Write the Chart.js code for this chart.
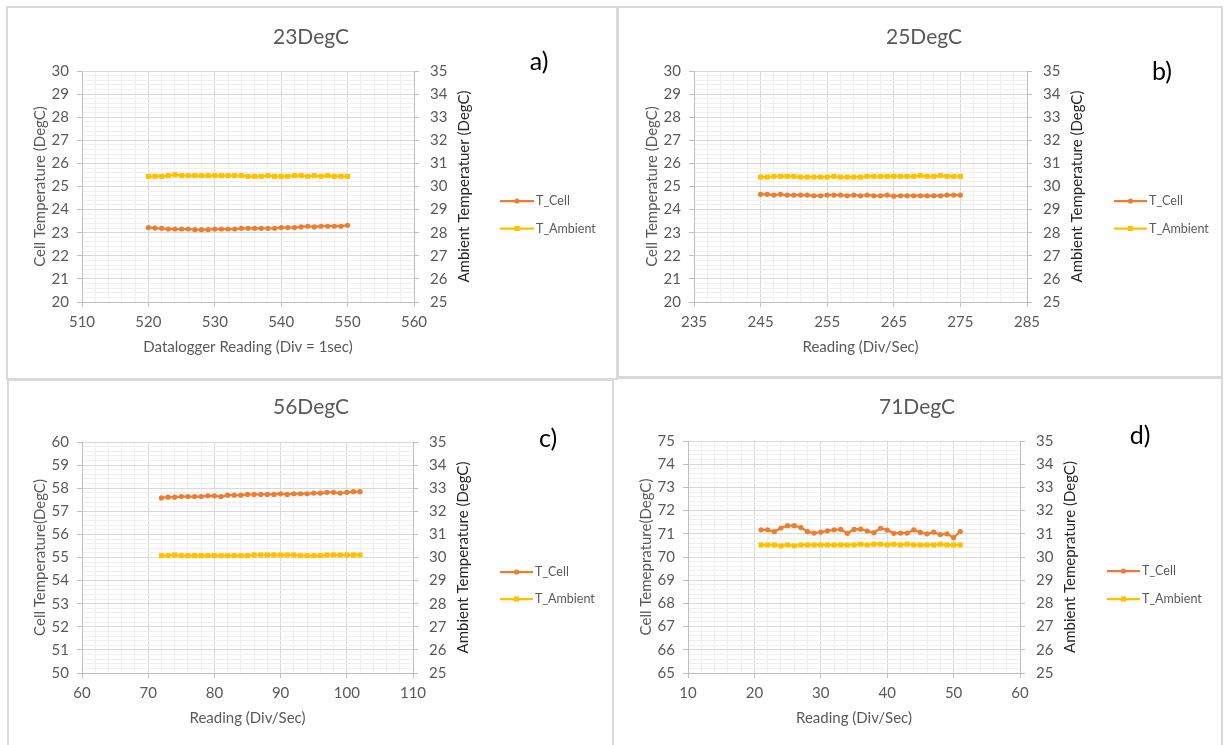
<!DOCTYPE html>
<html><head><meta charset="utf-8">
<script src="https://cdn.jsdelivr.net/npm/chart.js@4.4.1/dist/chart.umd.min.js"></script>
<style>
html,body{margin:0;padding:0;background:#fff;width:1224px;height:745px;overflow:hidden;position:relative;}
.frame{position:absolute;box-sizing:border-box;border:2px solid #d9d9d9;background:#fff;}
canvas{position:absolute;}
</style></head><body>
<div class="frame" style="left:7px;top:379px;width:608px;height:400px"></div>
<div class="frame" style="left:612px;top:377px;width:611px;height:400px"></div>
<div class="frame" style="left:6px;top:6px;width:612px;height:374px"></div>
<div class="frame" style="left:617px;top:6px;width:606px;height:372px"></div>
<canvas id="cA"></canvas><canvas id="cB"></canvas><canvas id="cC"></canvas><canvas id="cD"></canvas>
<script>
// ---------------- DATA ----------------
const readingsA = [520,521,522,523,524,525,526,527,528,529,530,531,532,533,534,535,536,537,538,539,540,541,542,543,544,545,546,547,548,549,550];
const cellA = [23.22,23.20,23.19,23.16,23.16,23.16,23.16,23.13,23.13,23.13,23.16,23.16,23.16,23.16,23.19,23.19,23.19,23.19,23.19,23.19,23.22,23.22,23.22,23.25,23.28,23.25,23.28,23.28,23.28,23.28,23.32];
const ambientA = [30.44,30.44,30.44,30.47,30.51,30.47,30.47,30.47,30.47,30.47,30.47,30.47,30.47,30.47,30.47,30.44,30.44,30.44,30.47,30.44,30.44,30.44,30.47,30.47,30.44,30.47,30.44,30.47,30.44,30.44,30.44];

const readingsB = [245,246,247,248,249,250,251,252,253,254,255,256,257,258,259,260,261,262,263,264,265,266,267,268,269,270,271,272,273,274,275];
const cellB = [24.66,24.66,24.63,24.66,24.63,24.63,24.63,24.63,24.60,24.60,24.63,24.63,24.63,24.60,24.63,24.60,24.63,24.60,24.60,24.63,24.58,24.60,24.60,24.60,24.60,24.60,24.60,24.60,24.63,24.63,24.63];
const ambientB = [30.41,30.41,30.44,30.44,30.44,30.44,30.41,30.41,30.41,30.41,30.41,30.44,30.41,30.41,30.41,30.41,30.44,30.44,30.44,30.44,30.44,30.44,30.44,30.44,30.47,30.44,30.44,30.47,30.44,30.44,30.44];

const readingsC = [72,73,74,75,76,77,78,79,80,81,82,83,84,85,86,87,88,89,90,91,92,93,94,95,96,97,98,99,100,101,102];
const cellC = [57.58,57.61,57.61,57.64,57.64,57.64,57.64,57.67,57.67,57.64,57.70,57.70,57.70,57.73,57.73,57.73,57.73,57.73,57.76,57.73,57.76,57.76,57.76,57.79,57.79,57.82,57.82,57.79,57.82,57.85,57.85];
const ambientC = [30.08,30.08,30.11,30.08,30.08,30.08,30.08,30.08,30.08,30.08,30.08,30.08,30.08,30.08,30.11,30.11,30.11,30.11,30.11,30.11,30.11,30.08,30.08,30.08,30.08,30.11,30.11,30.11,30.11,30.11,30.11];

const readingsD = [21,22,23,24,25,26,27,28,29,30,31,32,33,34,35,36,37,38,39,40,41,42,43,44,45,46,47,48,49,50,51];
const cellD = [71.17,71.17,71.09,71.25,71.35,71.35,71.27,71.09,71.03,71.07,71.13,71.17,71.19,71.02,71.19,71.20,71.12,71.05,71.24,71.16,71.02,71.03,71.03,71.17,71.06,71.00,71.07,70.97,71.00,70.84,71.10];
const ambientD = [30.52,30.52,30.52,30.48,30.52,30.48,30.52,30.52,30.52,30.52,30.52,30.52,30.52,30.52,30.52,30.55,30.52,30.55,30.55,30.52,30.55,30.52,30.55,30.52,30.52,30.52,30.52,30.55,30.52,30.52,30.52];

// major tick labels
const xTicksA = [510,520,530,540,550,560];
const xTicksB = [235,245,255,265,275,285];
const xTicksC = [60,70,80,90,100,110];
const xTicksD = [10,20,30,40,50,60];
const yTicksA = [20,21,22,23,24,25,26,27,28,29,30];
const yTicksB = [20,21,22,23,24,25,26,27,28,29,30];
const yTicksC = [50,51,52,53,54,55,56,57,58,59,60];
const yTicksD = [65,66,67,68,69,70,71,72,73,74,75];
const y2Ticks = [25,26,27,28,29,30,31,32,33,34,35];

const seriesNames = ['T_Cell','T_Ambient'];
const titles = ['23DegC','25DegC','56DegC','71DegC'];
const tags = ['a)','b)','c)','d)'];
const xTitles = ['Datalogger Reading (Div = 1sec)','Reading (Div/Sec)','Reading (Div/Sec)','Reading (Div/Sec)'];
const yTitles = ['Cell Temperature (DegC)','Cell Temperature (DegC)','Cell Temperature(DegC)','Cell Temeprature(DegC)'];
const y2Titles = ['Ambient Temperatuer (DegC)','Ambient Temperature (DegC)','Ambient Temperature (DegC)','Ambient Temeprature (DegC)'];

// ---------------- LAYOUT ----------------
const FONT = "Lato, 'Open Sans', sans-serif";
const CELL_COLOR = '#ED7D31', AMB_COLOR = '#FFC000';
const layouts = [
  {id:'cA', box:[7,7,610,372],  area:[82,414,71,302],   titleXY:[311,37],  tagXY:[539,62],   leg:[500,534,201,228.5]},
  {id:'cB', box:[618,7,604,370],area:[694,1027,71,302], titleXY:[924,37],  tagXY:[1162,72],  leg:[1114,1147,201,228.5]},
  {id:'cC', box:[7,379,606,366],area:[82,413,442,673],  titleXY:[311,407], tagXY:[548,439],  leg:[500,533,572,599]},
  {id:'cD', box:[613,378,609,367],area:[688,1020,441,673],titleXY:[917,407],tagXY:[1140,436], leg:[1107,1140,571,599]}
];
const FS = 15, LH = FS * 1.2;
const WL = 42 + LH / 2, WR = 60, HX = 45 + LH / 2;

const extras = {
  id:'extras',
  afterDraw(chart, args, o){
    const ctx = chart.ctx, a = chart.chartArea;
    ctx.save();
    ctx.textAlign = 'center'; ctx.textBaseline = 'middle';
    ctx.fillStyle = '#595959'; ctx.font = '21px ' + FONT;
    ctx.fillText(o.title, o.titleX, o.titleY);
    ctx.fillStyle = '#000000'; ctx.font = '25px ' + FONT;
    ctx.fillText(o.tag, o.tagX, o.tagY);
    ctx.translate(a.right + 50, (a.top + a.bottom) / 2);
    ctx.rotate(-Math.PI / 2);
    ctx.fillStyle = '#262626'; ctx.font = FS + 'px ' + FONT;
    ctx.fillText(o.y2Title, 0, 0);
    ctx.restore();
    ctx.save();
    chart.data.datasets.forEach((ds, i) => {
      const y = o.legY[i];
      ctx.strokeStyle = ds.borderColor; ctx.lineWidth = ds.borderWidth;
      ctx.beginPath(); ctx.moveTo(o.legX1, y); ctx.lineTo(o.legX2, y); ctx.stroke();
      ctx.fillStyle = ds.borderColor;
      Chart.helpers.drawPoint(ctx, {pointStyle: ds.pointStyle, radius: ds.pointRadius, rotation: 0, borderWidth: 0}, (o.legX1 + o.legX2) / 2, y);
      ctx.fillStyle = '#595959'; ctx.font = '12.5px ' + FONT;
      ctx.textAlign = 'left'; ctx.textBaseline = 'middle';
      ctx.fillText(ds.label, o.legX2 + 2, y);
    });
    ctx.restore();
  }
};

function minorTicks(major, sub){
  const step = (major[1] - major[0]) / sub, n = (major.length - 1) * sub, out = [];
  for (let k = 0; k <= n; k++) out.push({value: Math.round((major[0] + k * step) * 1e6) / 1e6});
  return out;
}
const isMaj = (ctx) => ctx.index % 5 === 0;

function build(i, xs, cell, amb, xT, yT){
  const L = layouts[i];
  const [bx, by, bw, bh] = L.box, [aL, aR, aT, aB] = L.area;
  const cv = document.getElementById(L.id);
  cv.width = bw; cv.height = bh;
  cv.style.left = bx + 'px'; cv.style.top = by + 'px';
  cv.style.width = bw + 'px'; cv.style.height = bh + 'px';
  const tickFont = {family: FONT, size: FS};
  new Chart(cv, {
    type: 'line',
    data: {datasets: [
      {label: seriesNames[0], data: xs.map((x, k) => ({x, y: cell[k]})), yAxisID: 'y',
       borderColor: CELL_COLOR, backgroundColor: CELL_COLOR, borderWidth: 2.25, pointStyle: 'circle', pointRadius: 2.6, pointBorderWidth: 0, tension: 0},
      {label: seriesNames[1], data: xs.map((x, k) => ({x, y: amb[k]})), yAxisID: 'y2',
       borderColor: AMB_COLOR, backgroundColor: AMB_COLOR, borderWidth: 2.25, pointStyle: 'rect', pointRadius: 3.6, pointBorderWidth: 0, tension: 0}
    ]},
    options: {
      responsive: false, animation: false, devicePixelRatio: 1,
      layout: {padding: {left: aL - WL - bx, right: (bx + bw) - (aR + WR), top: aT - by, bottom: (by + bh) - (aB + HX)}},
      plugins: {legend: {display: false}, title: {display: false}, tooltip: {enabled: false},
        extras: {title: titles[i], titleX: L.titleXY[0] - bx, titleY: L.titleXY[1] - by,
                 tag: tags[i], tagX: L.tagXY[0] - bx, tagY: L.tagXY[1] - by, y2Title: y2Titles[i],
                 legX1: L.leg[0] - bx, legX2: L.leg[1] - bx, legY: [L.leg[2] - by, L.leg[3] - by]}},
      scales: {
        x: {type: 'linear', position: 'bottom', min: xT[0], max: xT[xT.length - 1],
            afterBuildTicks: s => { s.ticks = minorTicks(xT, 5); },
            afterFit: s => { s.height = HX; },
            ticks: {autoSkip: false, maxRotation: 0, padding: 6, color: '#595959', font: tickFont,
                    callback: (v, k) => k % 5 === 0 ? String(xT[k / 5]) : ''},
            grid: {color: c => isMaj(c) ? '#d9d9d9' : '#f0f0f0', tickColor: c => isMaj(c) ? '#bfbfbf' : 'rgba(0,0,0,0)', tickLength: 5, lineWidth: 1},
            border: {color: '#bfbfbf', width: 1},
            title: {display: true, text: xTitles[i], color: '#595959', font: tickFont, padding: 0}},
        y: {type: 'linear', position: 'left', min: yT[0], max: yT[yT.length - 1],
            afterBuildTicks: s => { s.ticks = minorTicks(yT, 5); },
            afterFit: s => { s.width = WL; },
            ticks: {autoSkip: false, padding: 8, color: '#595959', font: tickFont,
                    callback: (v, k) => k % 5 === 0 ? String(yT[k / 5]) : ''},
            grid: {color: c => isMaj(c) ? '#d9d9d9' : '#f0f0f0', tickColor: c => isMaj(c) ? '#bfbfbf' : 'rgba(0,0,0,0)', tickLength: 5, lineWidth: 1},
            border: {color: '#bfbfbf', width: 1},
            title: {display: true, text: yTitles[i], color: '#595959', font: tickFont, padding: 0}},
        y2: {type: 'linear', position: 'right', min: y2Ticks[0], max: y2Ticks[y2Ticks.length - 1],
            afterBuildTicks: s => { s.ticks = y2Ticks.map(v => ({value: v})); },
            afterFit: s => { s.width = WR; },
            ticks: {autoSkip: false, padding: 11, color: '#595959', font: tickFont},
            grid: {drawOnChartArea: false, tickColor: '#bfbfbf', tickLength: 5},
            border: {color: '#bfbfbf', width: 1}}
      }
    },
    plugins: [extras]
  });
}
build(0, readingsA, cellA, ambientA, xTicksA, yTicksA);
build(1, readingsB, cellB, ambientB, xTicksB, yTicksB);
build(2, readingsC, cellC, ambientC, xTicksC, yTicksC);
build(3, readingsD, cellD, ambientD, xTicksD, yTicksD);
</script>
</body></html>
